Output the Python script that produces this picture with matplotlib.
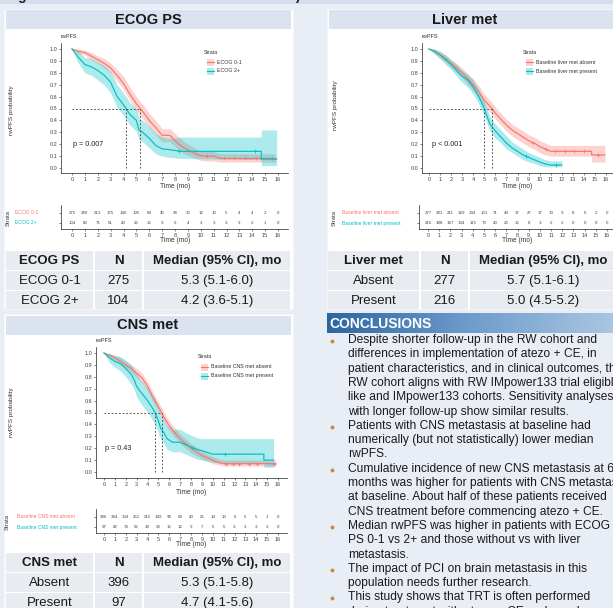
import matplotlib
matplotlib.use('Agg')
import matplotlib.pyplot as plt
import numpy as np
from matplotlib.patches import Rectangle
from matplotlib.colors import LinearSegmentedColormap

plt.rcParams['font.family'] = ['Liberation Sans', 'DejaVu Sans']

# ---------------- data ----------------
months = list(range(17))

# ECOG PS
ecog01_t  = [0, 0.5, 1, 1.5, 2, 2.5, 3, 3.5, 4, 4.5, 5, 5.3, 5.6, 6, 6.5, 7, 7.6, 8, 8.3, 8.7, 9.2, 9.8, 10.2, 11, 11.5, 15.8]
ecog01_s  = [1.0, 0.98, 0.97, 0.94, 0.91, 0.88, 0.84, 0.78, 0.71, 0.62, 0.54, 0.50, 0.46, 0.40, 0.34, 0.275, 0.275, 0.23, 0.20, 0.17, 0.14, 0.11, 0.10, 0.10, 0.08, 0.08]
ecog01_lo = [1.0, 0.96, 0.95, 0.91, 0.88, 0.84, 0.80, 0.73, 0.66, 0.57, 0.48, 0.44, 0.40, 0.34, 0.28, 0.22, 0.22, 0.18, 0.15, 0.12, 0.10, 0.07, 0.06, 0.06, 0.05, 0.05]
ecog01_hi = [1.0, 1.0, 0.99, 0.97, 0.94, 0.92, 0.88, 0.83, 0.77, 0.68, 0.60, 0.56, 0.52, 0.46, 0.40, 0.33, 0.33, 0.29, 0.26, 0.22, 0.19, 0.15, 0.14, 0.14, 0.12, 0.12]
ecog01_cens = [10.5, 11.8, 12.6, 13.4, 14.3, 15.5]

ecog2_t  = [0, 0.5, 1, 1.5, 2, 2.5, 3, 3.3, 3.5, 3.8, 4, 4.2, 4.5, 5, 5.2, 5.5, 6, 6.5, 7, 7.5, 8.5, 14.7, 14.7, 15.9]
ecog2_s  = [1.0, 0.93, 0.87, 0.85, 0.82, 0.78, 0.72, 0.65, 0.60, 0.56, 0.53, 0.50, 0.45, 0.40, 0.32, 0.30, 0.25, 0.19, 0.16, 0.155, 0.14, 0.14, 0.075, 0.075]
ecog2_lo = [1.0, 0.88, 0.80, 0.78, 0.74, 0.70, 0.63, 0.56, 0.51, 0.47, 0.44, 0.41, 0.36, 0.31, 0.24, 0.22, 0.17, 0.12, 0.10, 0.09, 0.08, 0.07, 0.02, 0.02]
ecog2_hi = [1.0, 0.98, 0.93, 0.92, 0.89, 0.86, 0.81, 0.75, 0.70, 0.66, 0.63, 0.60, 0.55, 0.50, 0.42, 0.40, 0.35, 0.29, 0.26, 0.25, 0.26, 0.26, 0.32, 0.32]
ecog2_cens = [8.3, 14.2]

# Liver met
livA_t  = [0, 0.5, 1, 1.5, 2, 2.5, 3, 3.5, 4, 4.5, 5, 5.7, 6, 6.5, 7, 7.5, 8, 8.5, 9, 9.5, 10, 10.5, 11, 14.7, 14.7, 15.9]
livA_s  = [1.0, 0.98, 0.95, 0.92, 0.88, 0.84, 0.80, 0.75, 0.70, 0.64, 0.57, 0.50, 0.46, 0.41, 0.36, 0.32, 0.29, 0.26, 0.23, 0.21, 0.18, 0.16, 0.14, 0.14, 0.11, 0.11]
livA_lo = [1.0, 0.96, 0.92, 0.89, 0.84, 0.80, 0.76, 0.70, 0.65, 0.59, 0.52, 0.45, 0.41, 0.36, 0.31, 0.27, 0.24, 0.21, 0.18, 0.16, 0.13, 0.11, 0.10, 0.10, 0.05, 0.05]
livA_hi = [1.0, 1.0, 0.98, 0.95, 0.91, 0.88, 0.84, 0.79, 0.75, 0.69, 0.62, 0.55, 0.51, 0.46, 0.41, 0.37, 0.34, 0.31, 0.28, 0.26, 0.23, 0.21, 0.19, 0.19, 0.19, 0.19]
livA_cens = [9.4, 10.6, 11.4, 12.3, 13.1, 14.0, 15.3]

livP_t  = [0, 0.5, 1, 1.5, 2, 2.5, 3, 3.5, 4, 4.5, 5, 5.3, 5.5, 6, 6.5, 7, 7.5, 8, 8.5, 9, 9.5, 10, 10.5, 11, 12]
livP_s  = [1.0, 0.98, 0.95, 0.91, 0.87, 0.82, 0.77, 0.74, 0.68, 0.60, 0.50, 0.42, 0.37, 0.31, 0.26, 0.21, 0.17, 0.14, 0.11, 0.09, 0.07, 0.05, 0.035, 0.025, 0.025]
livP_lo = [1.0, 0.96, 0.92, 0.87, 0.83, 0.77, 0.72, 0.68, 0.62, 0.54, 0.44, 0.36, 0.31, 0.25, 0.21, 0.16, 0.13, 0.10, 0.07, 0.05, 0.04, 0.02, 0.01, 0.01, 0.01]
livP_hi = [1.0, 1.0, 0.98, 0.95, 0.91, 0.87, 0.82, 0.79, 0.74, 0.66, 0.56, 0.48, 0.43, 0.37, 0.32, 0.27, 0.22, 0.19, 0.16, 0.13, 0.11, 0.09, 0.07, 0.06, 0.06]
livP_cens = [8.8, 11.5]

# CNS met
cnsA_t  = [0, 0.5, 1, 1.5, 2, 2.5, 3, 3.5, 4, 4.5, 5, 5.3, 5.5, 6, 6.5, 7, 7.5, 8, 8.5, 9, 9.5, 10, 10.5, 11, 15.8]
cnsA_s  = [1.0, 0.98, 0.96, 0.93, 0.90, 0.87, 0.83, 0.79, 0.72, 0.63, 0.55, 0.50, 0.46, 0.39, 0.33, 0.28, 0.24, 0.20, 0.17, 0.14, 0.12, 0.10, 0.08, 0.07, 0.07]
cnsA_lo = [1.0, 0.97, 0.94, 0.91, 0.87, 0.84, 0.79, 0.75, 0.68, 0.59, 0.51, 0.46, 0.42, 0.35, 0.29, 0.24, 0.20, 0.16, 0.14, 0.11, 0.09, 0.07, 0.06, 0.05, 0.05]
cnsA_hi = [1.0, 0.99, 0.98, 0.96, 0.93, 0.90, 0.87, 0.83, 0.76, 0.67, 0.59, 0.54, 0.50, 0.43, 0.37, 0.32, 0.28, 0.24, 0.21, 0.18, 0.15, 0.13, 0.11, 0.10, 0.10]
cnsA_cens = [11.2, 11.9, 12.4, 13.3, 14.1, 15.6]

cnsP_t  = [0, 0.5, 1, 1.5, 2, 2.5, 2.8, 3, 3.3, 3.5, 4, 4.3, 4.7, 5, 5.2, 5.5, 5.8, 6.3, 7, 7.5, 8, 8.5, 9, 10, 14.7, 14.7, 15.6]
cnsP_s  = [1.0, 0.96, 0.93, 0.91, 0.87, 0.82, 0.77, 0.72, 0.68, 0.66, 0.60, 0.56, 0.50, 0.43, 0.37, 0.33, 0.28, 0.25, 0.25, 0.23, 0.21, 0.19, 0.18, 0.15, 0.15, 0.10, 0.10]
cnsP_lo = [1.0, 0.92, 0.88, 0.85, 0.80, 0.74, 0.69, 0.63, 0.59, 0.56, 0.50, 0.46, 0.40, 0.33, 0.28, 0.24, 0.19, 0.17, 0.17, 0.15, 0.13, 0.11, 0.10, 0.08, 0.07, 0.04, 0.04]
cnsP_hi = [1.0, 1.0, 0.98, 0.97, 0.94, 0.90, 0.86, 0.82, 0.78, 0.76, 0.70, 0.67, 0.61, 0.54, 0.48, 0.44, 0.39, 0.36, 0.36, 0.33, 0.31, 0.29, 0.28, 0.28, 0.28, 0.28, 0.28]
cnsP_cens = [8.2, 11.1]

# numbers at risk
risk_ecog01 = [275, 240, 213, 175, 140, 105, 69, 45, 38, 30, 12, 10, 5, 4, 4, 2, 0]
risk_ecog2  = [104, 83, 71, 51, 40, 26, 15, 9, 6, 4, 3, 3, 3, 3, 2, 1, 0]
risk_livA   = [277, 241, 211, 169, 134, 101, 71, 49, 37, 27, 17, 13, 9, 8, 6, 2, 0]
risk_livP   = [216, 188, 167, 134, 115, 73, 40, 23, 15, 8, 3, 2, 2, 0, 0, 0, 0]
risk_cnsA   = [396, 344, 304, 251, 215, 149, 96, 63, 40, 25, 14, 10, 6, 5, 5, 1, 0]
risk_cnsP   = [97, 82, 74, 52, 39, 29, 15, 12, 9, 7, 5, 5, 3, 3, 3, 2, 0]

medians_ecog = [5.3, 4.2]
medians_liver = [5.7, 5.0]
medians_cns = [5.3, 4.7]

tab_ecog = [["ECOG PS", "N", "Median (95% CI), mo"],
            ["ECOG 0-1", "275", "5.3 (5.1-6.0)"],
            ["ECOG 2+", "104", "4.2 (3.6-5.1)"]]
tab_liver = [["Liver met", "N", "Median (95% CI), mo"],
             ["Absent", "277", "5.7 (5.1-6.1)"],
             ["Present", "216", "5.0 (4.5-5.2)"]]
tab_cns = [["CNS met", "N", "Median (95% CI), mo"],
           ["Absent", "396", "5.3 (5.1-5.8)"],
           ["Present", "97", "4.7 (4.1-5.6)"]]

conclusions = [
    (True,  "Despite shorter follow-up in the RW cohort and"),
    (False, "differences in implementation of atezo + CE, in"),
    (False, "patient characteristics, and in clinical outcomes, the"),
    (False, "RW cohort aligns with RW IMpower133 trial eligible-"),
    (False, "like and IMpower133 cohorts. Sensitivity analyses"),
    (False, "with longer follow-up show similar results."),
    (True,  "Patients with CNS metastasis at baseline had"),
    (False, "numerically (but not statistically) lower median"),
    (False, "rwPFS."),
    (True,  "Cumulative incidence of new CNS metastasis at 6"),
    (False, "months was higher for patients with CNS metastasis"),
    (False, "at baseline. About half of these patients received"),
    (False, "CNS treatment before commencing atezo + CE."),
    (True,  "Median rwPFS was higher in patients with ECOG"),
    (False, "PS 0-1 vs 2+ and those without vs with liver"),
    (False, "metastasis."),
    (True,  "The impact of PCI on brain metastasis in this"),
    (False, "population needs further research."),
    (True,  "This study shows that TRT is often performed"),
    (False, "during treatment with atezo + CE and may be"),
]

RED = '#F8766D'
CYAN = '#00BFC4'

# ---------------- figure ----------------
W, H = 613, 608
fig = plt.figure(figsize=(W / 100, H / 100), dpi=100)
fig.patch.set_facecolor('#e9eef6')

bg = fig.add_axes([0, 0, 1, 1], zorder=0)
bg.set_xlim(0, W); bg.set_ylim(H, 0); bg.axis('off')
fg = fig.add_axes([0, 0, 1, 1], zorder=20)
fg.set_xlim(0, W); fg.set_ylim(H, 0); fg.axis('off'); fg.patch.set_alpha(0)

def rect(x, y, w, h, fc, ec='none', lw=0, ax=bg, z=1):
    ax.add_patch(Rectangle((x, y), w, h, facecolor=fc, edgecolor=ec, linewidth=lw, zorder=z))

# top strip (title of the poster section, cut off by the crop)
rect(0, 0, W, 3.5, '#d6deed')
fg.text(17, 0.3, "g", fontsize=10, fontweight='bold', color='#222222', va='baseline')
fg.text(295, 0.3, ")", fontsize=10, fontweight='bold', color='#222222', va='baseline')

# panels
HDR = '#dbe2f0'
rect(4, 8.5, 289, 300, 'white', ec='#f3f5fa', lw=0.8)
rect(6, 10, 285, 19, HDR)
bg.text(148, 19.5, "ECOG PS", fontsize=10.5, fontweight='bold', ha='center', va='center', color='#1a1a1a')
rect(327, 8.5, 300, 300, 'white', ec='#f3f5fa', lw=0.8)
rect(329, 10, 300, 19, HDR)
bg.text(465, 19.5, "Liver met", fontsize=10.5, fontweight='bold', ha='center', va='center', color='#1a1a1a')
rect(4, 313.5, 289, 300, 'white', ec='#f3f5fa', lw=0.8)
rect(6, 315.5, 285, 19, HDR)
bg.text(148, 325, "CNS met", fontsize=10.5, fontweight='bold', ha='center', va='center', color='#1a1a1a')

# tables
CELL = '#e8ebf0'
def draw_table(xe, ye, rows):
    for i in range(3):
        for j in range(3):
            rect(xe[j] + 0.8, ye[i] + 0.8, xe[j + 1] - xe[j] - 1.6, ye[i + 1] - ye[i] - 1.6, CELL)
            cx = (xe[j] + xe[j + 1]) / 2
            cy = (ye[i] + ye[i + 1]) / 2
            if i == 0:
                bg.text(cx, cy + 0.5, rows[i][j], fontsize=9.5, fontweight='bold', ha='center', va='center', color='#1a1a1a')
            else:
                bg.text(cx, cy + 0.5, rows[i][j], fontsize=9.5, ha='center', va='center', color='#1a1a1a')

draw_table([5, 94, 143, 291], [250, 270.5, 290.5, 310], tab_ecog)
draw_table([327, 420, 469, 617], [250, 270.5, 290.5, 310], tab_liver)
draw_table([5, 94, 143, 291], [552, 572.5, 592.5, 613], tab_cns)

# conclusions header with gradient
grad = np.linspace(0, 1, 256)[None, :]
cmap = LinearSegmentedColormap.from_list('g', ['#2c66a0', '#6f9ccb', '#a9c6e2'])
bg.imshow(grad, extent=(327, W, 333, 313), aspect='auto', cmap=cmap, zorder=2)
bg.set_xlim(0, W); bg.set_ylim(H, 0)
bg.text(329, 323.5, "CONCLUSIONS", fontsize=10, fontweight='bold', color='white', va='center', zorder=3)

y = 340
for bullet, line in conclusions:
    if bullet:
        fg.plot([332], [y + 0.8], 'o', color='#c58a3d', ms=2.8, mew=0)
    fg.text(348, y, line, fontsize=8.65, color='#1a1a1a', va='center')
    y += 14.3

# ---------------- KM axes ----------------
def make_axes(l, r, t, b, x0px, x16px, y1px, y0px):
    sx = (x16px - x0px) / 16.0
    sy = (y0px - y1px)
    ax = fig.add_axes([l / W, 1 - b / H, (r - l) / W, (b - t) / H], zorder=5)
    ax.set_xlim((l - x0px) / sx, (r - x0px) / sx)
    ax.set_ylim(-(b - y0px) / sy, 1 + (y1px - t) / sy)
    ax.patch.set_alpha(0)
    for s in ['top', 'right']:
        ax.spines[s].set_visible(False)
    for s in ['left', 'bottom']:
        ax.spines[s].set_linewidth(0.5)
        ax.spines[s].set_color('#222222')
    ax.tick_params(length=1.6, width=0.4, labelsize=4, labelcolor='#444444', pad=1, color='#222222')
    ax.set_xticks(months)
    return ax

def draw_km(ax, t, s, lo, hi, color, cens):
    ax.fill_between(t, lo, hi, color=color, alpha=0.32, lw=0)
    ax.plot(t, s, color=color, lw=0.85)
    cs = [np.interp(c, t, s) for c in cens]
    ax.plot(cens, cs, '+', color=color, ms=2.2, mew=0.5)

def km_panel(box, x0px, x16px, y1px, y0px, curves, meds, pval, pxy, ylab_xy, legend_xy, labels):
    l, r, t, b = box
    ax = make_axes(l, r, t, b, x0px, x16px, y1px, y0px)
    yt = np.round(np.arange(0, 1.01, 0.1), 1)
    ax.set_yticks(yt)
    ax.set_yticklabels([f"{v:.1f}" for v in yt])
    for c in curves:
        draw_km(ax, *c)
    ax.hlines(0.5, 0, max(meds), colors='#4d4d4d', linestyles=(0, (2, 2)), lw=0.65)
    ax.vlines(meds, 0, 0.5, colors='#4d4d4d', linestyles=(0, (2, 2)), lw=0.65)
    fg.text(l, t - 7, "rwPFS", fontsize=4, color='#333333', va='center')
    fg.text((x0px + x16px) / 2, b + 14, "Time (mo)", fontsize=4.8, color='#333333', ha='center', va='center')
    fg.text(pxy[0], pxy[1], pval, fontsize=5.2, color='#222222', va='center')
    fg.text(ylab_xy[0], ylab_xy[1], "rwPFS probability", fontsize=4.6, color='#333333', rotation=90, ha='center', va='center')
    lx, ly = legend_xy
    fg.text(lx, ly, "Strata", fontsize=3.8, color='#333333', va='center')
    for k, (lab, col) in enumerate(zip(labels, [RED, CYAN])):
        yy = ly + 10 + 9 * k
        fg.add_patch(Rectangle((lx + 2.5, yy - 3.5), 7, 7, facecolor=col, alpha=0.32, lw=0))
        fg.plot([lx + 2.5, lx + 9.5], [yy, yy], color=col, lw=0.8)
        fg.text(lx + 13, yy, lab, fontsize=3.8, color='#333333', va='center')
    return ax

def risk_panel(box, x0px, x16px, rows_px, r1, r2, labels, lab_x, strata_x):
    l, r, t, b = box
    sx = (x16px - x0px) / 16.0
    ax = fig.add_axes([l / W, 1 - b / H, (r - l) / W, (b - t) / H], zorder=5)
    ax.set_xlim((l - x0px) / sx, (r - x0px) / sx)
    sy = rows_px[1] - rows_px[0]
    ax.set_ylim(1 - (b - rows_px[1]) / sy, 2 + (rows_px[0] - t) / sy)
    ax.patch.set_alpha(0)
    for s in ['top', 'right']:
        ax.spines[s].set_visible(False)
    for s in ['left', 'bottom']:
        ax.spines[s].set_linewidth(0.5)
        ax.spines[s].set_color('#222222')
    ax.set_xticks(months)
    ax.set_yticks([1, 2]); ax.set_yticklabels([])
    ax.tick_params(length=1.6, width=0.4, labelsize=4, labelcolor='#444444', pad=1, color='#222222')
    for i in months:
        ax.text(i, 2, str(r1[i]), fontsize=3.2, ha='center', va='center', color='#444444')
        ax.text(i, 1, str(r2[i]), fontsize=3.2, ha='center', va='center', color='#444444')
    fg.text((x0px + x16px) / 2, b + 12, "Time (mo)", fontsize=4.8, color='#333333', ha='center', va='center')
    fg.text(lab_x, rows_px[0], labels[0], fontsize=3.6, color=RED, va='center')
    fg.text(lab_x, rows_px[1], labels[1], fontsize=3.6, color=CYAN, va='center')
    fg.text(strata_x, (rows_px[0] + rows_px[1]) / 2, "Strata", fontsize=4.2, color='#333333', rotation=90, ha='center', va='center')

# ECOG
km_panel((61, 288, 43, 173), 72, 278, 49, 168,
         [(ecog01_t, ecog01_s, ecog01_lo, ecog01_hi, RED, ecog01_cens),
          (ecog2_t, ecog2_s, ecog2_lo, ecog2_hi, CYAN, ecog2_cens)],
         medians_ecog, "p = 0.007", (73, 144), (12, 110), (204, 52), ["ECOG 0-1", "ECOG 2+"])
risk_panel((61, 288, 205, 229), 72, 278, (213, 223), risk_ecog01, risk_ecog2,
           ["ECOG 0-1", "ECOG 2+"], 15, 8)

# Liver
km_panel((422, 616, 43, 173), 429, 606, 49, 168,
         [(livA_t, livA_s, livA_lo, livA_hi, RED, livA_cens),
          (livP_t, livP_s, livP_lo, livP_hi, CYAN, livP_cens)],
         medians_liver, "p < 0.001", (432, 144), (335, 105), (523, 52),
         ["Baseline liver met absent", "Baseline liver met present"])
risk_panel((419, 616, 205, 229), 428, 607, (213, 223), risk_livA, risk_livP,
           ["Baseline liver met absent", "Baseline liver met present"], 342, 334)

# CNS
km_panel((96, 287, 347, 478), 104, 278, 353, 472,
         [(cnsA_t, cnsA_s, cnsA_lo, cnsA_hi, RED, cnsA_cens),
          (cnsP_t, cnsP_s, cnsP_lo, cnsP_hi, CYAN, cnsP_cens)],
         medians_cns, "p = 0.43", (105, 448), (12, 412), (198, 357),
         ["Baseline CNS met absent", "Baseline CNS met present"])
risk_panel((96, 287, 509, 533), 104, 278, (517, 527), risk_cnsA, risk_cnsP,
           ["Baseline CNS met absent", "Baseline CNS met present"], 17, 7)

fig.savefig('out.png', dpi=100, facecolor=fig.get_facecolor())
